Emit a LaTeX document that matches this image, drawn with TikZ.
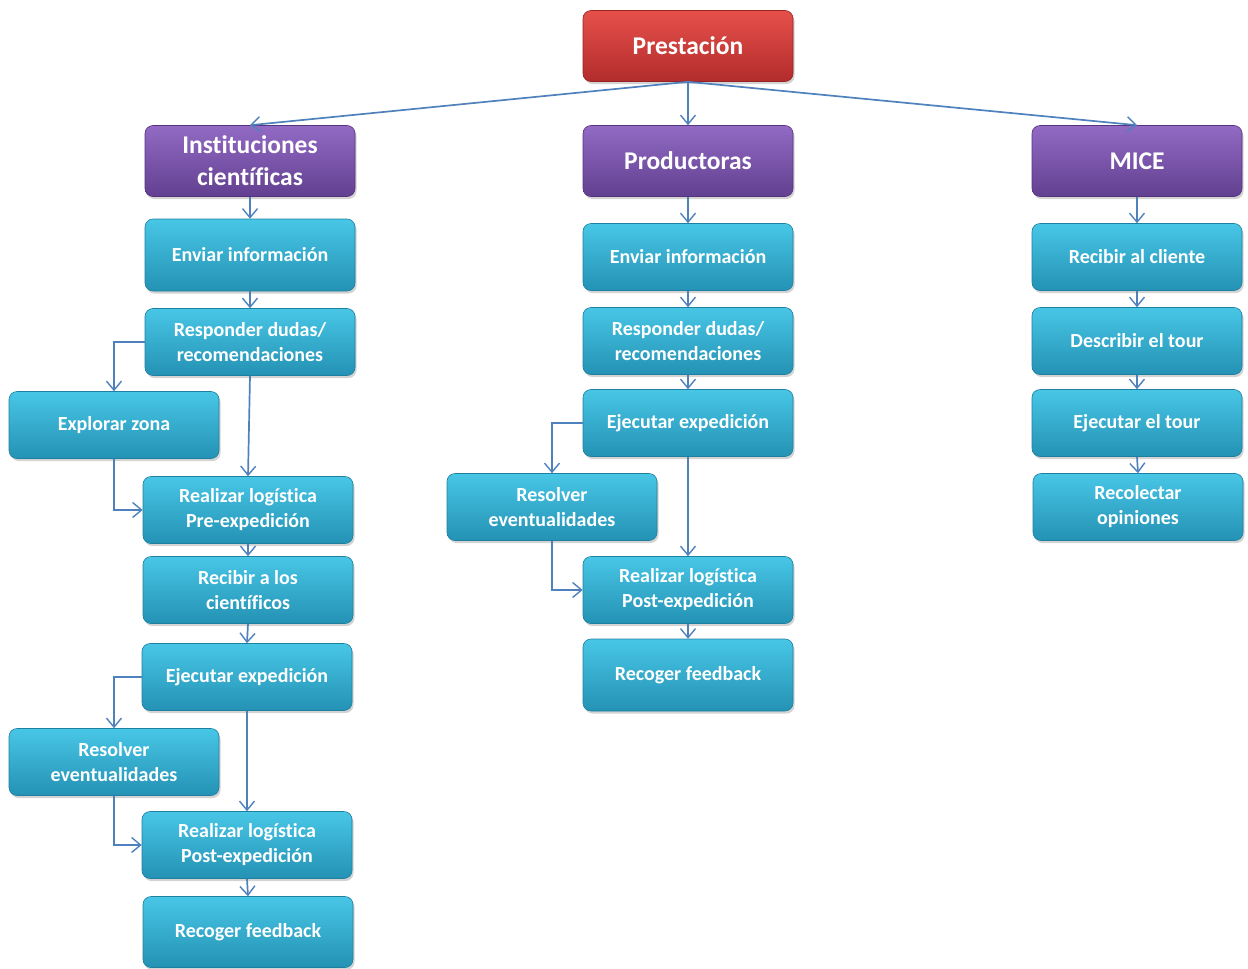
\documentclass[tikz,border=0pt]{standalone}
\usepackage{fontspec}
\setmainfont{Carlito}[Ligatures={NoCommon}]
\usetikzlibrary{arrows.meta,shadows}

\definecolor{cyantop}{RGB}{72,198,230}
\definecolor{cyanbot}{RGB}{36,146,180}
\definecolor{cyanedge}{RGB}{30,128,160}
\definecolor{purptop}{RGB}{146,106,196}
\definecolor{purpbot}{RGB}{98,64,144}
\definecolor{purpedge}{RGB}{84,52,126}
\definecolor{redtop}{RGB}{230,80,74}
\definecolor{redbot}{RGB}{178,44,44}
\definecolor{rededge}{RGB}{150,36,36}
\definecolor{linkblue}{RGB}{79,129,189}

\tikzset{
  basebox/.style={rounded corners=8pt, minimum width=210pt, inner sep=0pt,
    align=center, text=white, line width=0.6pt,
    drop shadow={shadow xshift=1.5pt, shadow yshift=-2.5pt, opacity=0.35}},
  stepbox/.style={basebox, minimum height=67pt, draw=cyanedge,
    top color=cyantop, bottom color=cyanbot,
    font=\bfseries\fontsize{20}{25}\selectfont},
  headbox/.style={basebox, minimum height=71pt, draw=purpedge,
    top color=purptop, bottom color=purpbot,
    font=\bfseries\fontsize{25.5}{32}\selectfont},
  rootbox/.style={basebox, minimum height=71pt, draw=rededge,
    top color=redtop, bottom color=redbot,
    font=\bfseries\fontsize{25.5}{32}\selectfont},
  link/.style={draw=linkblue, line width=1.7pt,
    -{Straight Barb[length=9pt,width=15pt,line width=1.4pt]}}
}

\begin{document}
\begin{tikzpicture}[x=1pt,y=-1pt]
\useasboundingbox (0,0) rectangle (1248,969);

% root and branch heads
\node[rootbox] (pres) at (688,46) {Prestación};
\node[headbox] (inst) at (250,161) {Instituciones\\científicas};
\node[headbox] (prod) at (688,161) {Productoras};
\node[headbox] (mice) at (1137,161) {MICE};

% scientific institutions
\node[stepbox, minimum height=72pt] (a1) at (250,255) {Enviar información};
\node[stepbox] (a2) at (250,342) {Responder dudas/\\recomendaciones};
\node[stepbox] (a3) at (114,425) {Explorar zona};
\node[stepbox] (a4) at (248,510) {Realizar logística\\Pre-expedición};
\node[stepbox] (a5) at (248,590) {Recibir a los\\científicos};
\node[stepbox] (a6) at (247,677) {Ejecutar expedición};
\node[stepbox] (a7) at (114,762) {Resolver\\eventualidades};
\node[stepbox] (a8) at (247,845) {Realizar logística\\Post-expedición};
\node[stepbox, minimum height=71pt] (a9) at (248,932) {Recoger feedback};

% producers
\node[stepbox] (b1) at (688,257) {Enviar información};
\node[stepbox] (b2) at (688,341) {Responder dudas/\\recomendaciones};
\node[stepbox] (b3) at (688,423) {Ejecutar expedición};
\node[stepbox] (b4) at (552,507) {Resolver\\eventualidades};
\node[stepbox] (b5) at (688,590) {Realizar logística\\Post-expedición};
\node[stepbox, minimum height=72pt] (b6) at (688,675) {Recoger feedback};

% MICE
\node[stepbox] (c1) at (1137,257) {Recibir al cliente};
\node[stepbox] (c2) at (1137,341) {Describir el tour};
\node[stepbox] (c3) at (1137,423) {Ejecutar el tour};
\node[stepbox] (c4) at (1138,507) {Recolectar\\opiniones};

% connectors from the root
\draw[link] (pres.south) -- (inst.north);
\draw[link] (pres.south) -- (prod.north);
\draw[link] (pres.south) -- (mice.north);

% scientific institutions flow
\draw[link] (inst) -- (a1);
\draw[link] (a1) -- (a2);
\draw[link] (a2.west) -| (a3.north);
\draw[link] (a3.south) |- (a4.west);
\draw[link] (a2.south) -- (a4.north);
\draw[link] (a4.south) -- (a5.north);
\draw[link] (a5.south) -- (a6.north);
\draw[link] (a6.west) -| (a7.north);
\draw[link] (a7.south) |- (a8.west);
\draw[link] (a6.south) -- (a8.north);
\draw[link] (a8.south) -- (a9.north);

% producers flow
\draw[link] (prod) -- (b1);
\draw[link] (b1) -- (b2);
\draw[link] (b2) -- (b3);
\draw[link] (b3.west) -| (b4.north);
\draw[link] (b4.south) |- (b5.west);
\draw[link] (b3.south) -- (b5.north);
\draw[link] (b5) -- (b6);

% MICE flow
\draw[link] (mice) -- (c1);
\draw[link] (c1) -- (c2);
\draw[link] (c2) -- (c3);
\draw[link] (c3.south) -- (c4.north);
\end{tikzpicture}
\end{document}
